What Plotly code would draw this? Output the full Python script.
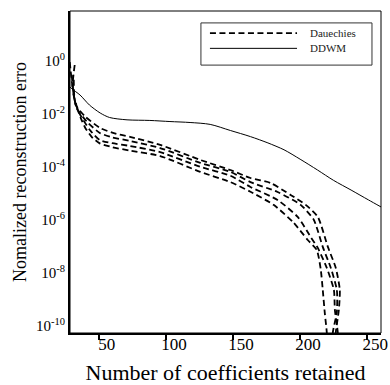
import plotly.graph_objects as go

# ---------------- data ----------------
# DDWM (solid)
ddwm_x = [28.5, 30, 36, 43, 51, 58, 71, 88, 103, 118, 133, 148, 163, 176, 188, 200, 213, 225, 238, 251, 260.3]
ddwm_y = [1.0e-1, 8.5e-2, 5.0e-2, 2.1e-2, 1.05e-2, 7.1e-3, 5.8e-3, 5.5e-3, 5.0e-3, 4.6e-3, 3.9e-3,
          2.3e-3, 1.35e-3, 7.8e-4, 4.3e-4, 1.9e-4, 7.4e-5, 3.0e-5, 1.3e-5, 5.5e-6, 3.0e-6]

# Daubechies (dashed), four curves
dA_x = [32.0, 30.5, 32.8, 39.5, 50.7, 60.0, 73.2, 95.7, 125.6, 148.1, 163.0, 178.0, 192.9, 204.2, 213.2, 220.7, 226.6, 229.6, 228.9, 226.6, 226.3]
dA_y = [6.8e-1, 1.2e-1, 2.1e-2, 8.0e-3, 2.9e-3, 1.9e-3, 1.32e-3, 6.6e-4, 1.78e-4, 7.4e-5, 3.7e-5, 2.4e-5, 8.5e-6, 3.6e-6, 1.26e-6, 9.3e-8, 1.5e-8, 2.2e-9, 4.0e-10, 5.4e-11, 1e-11]

dB_x = [28.3, 30.5, 33.5, 41.0, 50.7, 60.0, 73.2, 95.7, 125.6, 148.1, 163.0, 183.2, 200.4, 210.2, 216.9, 222.9, 227.4, 227.4, 224.4, 224.2]
dB_y = [8.8e-1, 9.2e-2, 1.6e-2, 5.0e-3, 1.86e-3, 1.26e-3, 9.3e-4, 5.0e-4, 1.38e-4, 6.3e-5, 2.6e-5, 1.1e-5, 3.6e-6, 9.8e-7, 9.3e-8, 1.5e-8, 2.2e-9, 3.3e-10, 5.4e-11, 1e-11]

dC_x = [29.8, 31.3, 35.0, 43.3, 50.7, 60.0, 73.2, 95.7, 125.6, 148.1, 163.0, 183.2, 198.2, 207.9, 213.2, 219.9, 225.2, 225.9, 228.1, 228.3]
dC_y = [2.85e-1, 5.0e-2, 1.15e-2, 2.4e-3, 1.0e-3, 7.6e-4, 6.0e-4, 3.5e-4, 9.8e-5, 4.5e-5, 1.7e-5, 5.5e-6, 1.26e-6, 2.2e-7, 8.5e-8, 1.5e-8, 2.2e-9, 4.0e-10, 5.4e-11, 1e-11]

dD_x = [31.3, 32.0, 36.5, 40.0, 44.8, 50.7, 60.0, 73.2, 95.7, 125.6, 148.1, 163.0, 180.2, 195.2, 205.7, 212.4, 215.4, 216.9, 218.4, 219.9, 220.1]
dD_y = [1.9e-1, 3.2e-2, 6.8e-3, 2.8e-3, 1.3e-3, 7.5e-4, 5.4e-4, 4.0e-4, 2.5e-4, 6.3e-5, 2.6e-5, 1.12e-5, 3.6e-6, 7.6e-7, 1.7e-7, 7.2e-8, 1.3e-8, 2.2e-9, 3.0e-10, 5.4e-11, 1e-11]

x_ticks = [50, 100, 150, 200, 250]
y_ticks = [1e-10, 1e-8, 1e-6, 1e-4, 1e-2, 1e0]
y_ticktext = ["10<sup>-10</sup>", "10<sup>-8</sup>", "10<sup>-6</sup>",
              "10<sup>-4</sup>", "10<sup>-2</sup>", "10<sup>0</sup>"]

legend_labels = ["Dauechies", "DDWM"]
x_title = "Number of coefficients retained"
y_title = "Nomalized reconstruction erro"

SERIF = "Liberation Serif, Times New Roman, serif"
DASH = "6px,3.5px"

fig = go.Figure()

for xs, ys in [(dA_x, dA_y), (dB_x, dB_y), (dC_x, dC_y), (dD_x, dD_y)]:
    fig.add_trace(go.Scatter(x=xs, y=ys, mode="lines", showlegend=False,
                             line=dict(color="black", width=1.8, dash=DASH,
                                       shape="spline", smoothing=0.6)))

fig.add_trace(go.Scatter(x=ddwm_x, y=ddwm_y, mode="lines", showlegend=False,
                         line=dict(color="black", width=1, shape="spline", smoothing=0.8)))

# ----- manual legend (box, samples, labels) in paper coordinates -----
lx0, lx1, ly0, ly1 = 0.421, 0.971, 0.832, 0.963
fig.add_shape(type="rect", xref="paper", yref="paper", x0=lx0, x1=lx1, y0=ly0, y1=ly1,
              line=dict(color="#333", width=1), fillcolor="white", layer="above")
row_y = [0.931, 0.884]
styles = [dict(color="black", width=1.8, dash=DASH), dict(color="black", width=1)]
for ry, st, lab in zip(row_y, styles, legend_labels):
    fig.add_shape(type="line", xref="paper", yref="paper", x0=0.450, x1=0.730, y0=ry, y1=ry,
                  line=st, layer="above")
    fig.add_annotation(xref="paper", yref="paper", x=0.765, y=ry, text=lab, showarrow=False,
                       xanchor="left", yanchor="middle",
                       font=dict(family=SERIF, size=11, color="#222"))

# plot frame (thin top/right)
fig.add_shape(type="rect", xref="paper", yref="paper", x0=0, x1=1, y0=0, y1=1,
              line=dict(color="black", width=1), layer="above")

fig.update_layout(
    width=390, height=385,
    margin=dict(l=70, r=9, t=11, b=52),
    paper_bgcolor="white", plot_bgcolor="white",
    font=dict(family=SERIF, color="black"),
    showlegend=False,
)
fig.update_xaxes(
    range=[28.5, 260.3], tickvals=x_ticks, ticks="outside", ticklen=5, tickwidth=1.5,
    tickcolor="black", showline=True, linewidth=2, linecolor="black", showgrid=False,
    zeroline=False, ticklabelshift=8, ticklabelstandoff=-10, automargin=False,
    ticklabeloverflow="allow",
    tickfont=dict(family=SERIF, size=17, color="black"),
    title=dict(text=x_title, font=dict(family=SERIF, size=22, color="black"), standoff=12),
)
fig.update_yaxes(
    type="log", range=[-10.28, 1.87], tickvals=y_ticks, ticktext=y_ticktext, ticks="",
    showline=True, linewidth=2, linecolor="black", showgrid=False, zeroline=False,
    automargin=False, ticklabelstandoff=0,
    tickfont=dict(family=SERIF, size=15, color="black"),
    title=dict(text=y_title, font=dict(family=SERIF, size=18, color="black"), standoff=5),
)

fig.write_html(
    "out.html",
    config={"displayModeBar": False},
    post_script="document.body.style.margin='0';document.body.style.overflow='hidden';",
)
